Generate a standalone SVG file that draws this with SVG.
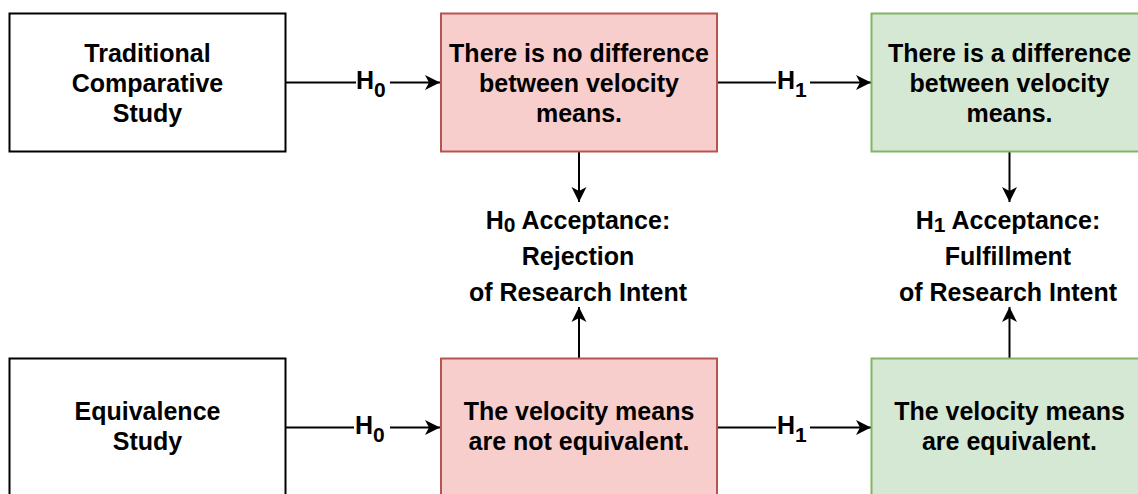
<svg xmlns="http://www.w3.org/2000/svg" width="1138" height="494" viewBox="0 0 1138 494">
  <style>
    .box { stroke-width: 2; }
    .plain { fill: #ffffff; stroke: #000000; }
    .red { fill: #f8cecc; stroke: #b85450; }
    .green { fill: #d5e8d4; stroke: #82b366; }
    text { font-family: "Liberation Sans", Arial, sans-serif; font-weight: bold; font-size: 25px; fill: #000000; text-anchor: middle; }
    .sub { font-size: 21px; }
    .edge { fill: none; stroke: #000000; stroke-width: 2; }
    .lblbg { fill: #ffffff; stroke: none; }
  </style>
  <defs>
    <marker id="arrow" markerUnits="userSpaceOnUse" markerWidth="16" markerHeight="16" viewBox="0 0 16 16" refX="15" refY="8" orient="auto">
      <path d="M15,8 L0,0.5 L4,8 L0,15.5 Z" fill="#000000" stroke="none"/>
    </marker>
  </defs>

  <g id="connectors">
    <!-- top row -->
    <path class="edge" d="M286,82.5 L440,82.5" marker-end="url(#arrow)"/>
    <rect class="lblbg" x="356" y="68" width="34" height="32"/>
    <text x="356" y="88.5" style="text-anchor:start">H<tspan class="sub" dy="8">0</tspan></text>
    <path class="edge" d="M717,82.5 L871,82.5" marker-end="url(#arrow)"/>
    <rect class="lblbg" x="776" y="68" width="34" height="32"/>
    <text x="777" y="88.5" style="text-anchor:start">H<tspan class="sub" dy="8">1</tspan></text>
    <!-- bottom row -->
    <path class="edge" d="M286,427.5 L440,427.5" marker-end="url(#arrow)"/>
    <rect class="lblbg" x="354" y="413" width="36" height="32"/>
    <text x="355" y="433.5" style="text-anchor:start">H<tspan class="sub" dy="8">0</tspan></text>
    <path class="edge" d="M717,427.5 L871,427.5" marker-end="url(#arrow)"/>
    <rect class="lblbg" x="776" y="413" width="34" height="32"/>
    <text x="777" y="433.5" style="text-anchor:start">H<tspan class="sub" dy="8">1</tspan></text>
    <!-- vertical -->
    <path class="edge" d="M579,152 L579,202" marker-end="url(#arrow)"/>
    <path class="edge" d="M579,358.5 L579,307" marker-end="url(#arrow)"/>
    <path class="edge" d="M1009.5,152 L1009.5,202" marker-end="url(#arrow)"/>
    <path class="edge" d="M1009.5,358.5 L1009.5,307" marker-end="url(#arrow)"/>
  </g>

  <g id="traditional">
    <rect class="box plain" x="9.5" y="13.5" width="276" height="138"/>
    <text><tspan x="147.5" y="61.5">Traditional</tspan><tspan x="147.5" y="91.5">Comparative</tspan><tspan x="147.5" y="121.5">Study</tspan></text>
  </g>

  <g id="no-difference">
    <rect class="box red" x="441" y="13.5" width="276" height="138"/>
    <text><tspan x="579" y="61.5">There is no difference</tspan><tspan x="579" y="91.5">between velocity</tspan><tspan x="579" y="121.5">means.</tspan></text>
  </g>

  <g id="difference">
    <rect class="box green" x="871.5" y="13.5" width="276" height="138"/>
    <text><tspan x="1009.5" y="61.5">There is a difference</tspan><tspan x="1009.5" y="91.5">between velocity</tspan><tspan x="1009.5" y="121.5">means.</tspan></text>
  </g>

  <g id="h0-acceptance">
    <text><tspan x="578" y="228.5">H<tspan class="sub" dy="3.5">0</tspan><tspan dy="-3.5"> Acceptance:</tspan></tspan><tspan x="578" y="265">Rejection</tspan><tspan x="578" y="300.5">of Research Intent</tspan></text>
  </g>

  <g id="h1-acceptance">
    <text><tspan x="1008" y="228.5">H<tspan class="sub" dy="3.5">1</tspan><tspan dy="-3.5"> Acceptance:</tspan></tspan><tspan x="1008" y="265">Fulfillment</tspan><tspan x="1008" y="300.5">of Research Intent</tspan></text>
  </g>

  <g id="equivalence">
    <rect class="box plain" x="9.5" y="358.5" width="276" height="138"/>
    <text><tspan x="147.5" y="420">Equivalence</tspan><tspan x="147.5" y="450">Study</tspan></text>
  </g>

  <g id="not-equivalent">
    <rect class="box red" x="441" y="358.5" width="276" height="138"/>
    <text><tspan x="579" y="420">The velocity means</tspan><tspan x="579" y="450">are not equivalent.</tspan></text>
  </g>

  <g id="equivalent">
    <rect class="box green" x="871.5" y="358.5" width="276" height="138"/>
    <text><tspan x="1009.5" y="420">The velocity means</tspan><tspan x="1009.5" y="450">are equivalent.</tspan></text>
  </g>
</svg>
